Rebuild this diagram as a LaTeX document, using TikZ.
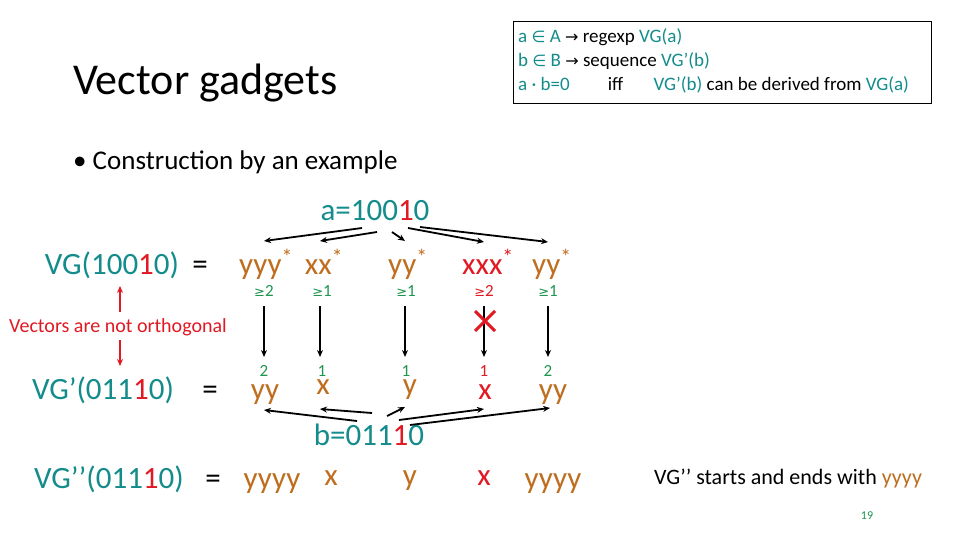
\documentclass[tikz,border=0pt]{standalone}
\usepackage{fontspec}
\setmainfont{Carlito}
\newfontfamily\djv{DejaVu Sans}
\usetikzlibrary{arrows.meta}
\definecolor{tl}{RGB}{20,140,140}
\definecolor{br}{RGB}{190,110,30}
\definecolor{gn}{RGB}{30,150,80}
\definecolor{rd}{RGB}{225,25,35}
\newcommand\geqsym{{\djv\fontsize{13}{15}\selectfont≥}}
\newcommand\sym[1]{{\djv\fontsize{16}{18}\selectfont#1}}
\begin{document}
\begin{tikzpicture}[x=1pt,y=-1pt,
  t/.style={inner sep=0pt,anchor=base},
  big/.style={t,font=\fontsize{31}{33}\selectfont},
  sm/.style={t,font=\fontsize{17}{19}\selectfont,text=gn},
  bx/.style={t,anchor=base west,font=\fontsize{19}{21}\selectfont},
  ar/.style={-{Stealth[length=7pt,width=6pt]},line width=1.8pt},
  rar/.style={-{Stealth[length=7pt,width=6pt]},line width=2.2pt,rd}]
\useasboundingbox[fill=white] (0,0) rectangle (960,540);
\node[t,anchor=base west,font=\fontsize{44}{46}\selectfont] (title) at (73,95) {Vector gadgets};
\node[draw,line width=1pt,minimum width=418,minimum height=82,anchor=north west] (box) at (513,21) {};
\node[bx] (l1) at (518,43) {\textcolor{tl}{a \sym{∈} A} \sym{→} regexp \textcolor{tl}{VG(a)}};
\node[bx] (l2) at (518,67) {\textcolor{tl}{b \sym{∈} B} \sym{→} sequence \textcolor{tl}{VG’(b)}};
\node[bx] (l3) at (518,91) {\textcolor{tl}{a · b=0}\hspace{2em}iff\hspace{1.6em}\textcolor{tl}{VG’(b)} can be derived from \textcolor{tl}{VG(a)}};
\node[t,anchor=base west,font=\fontsize{27}{29}\selectfont] (bul) at (73,170) {• Construction by an example};
\node[big,text=tl] (a) at (375,220) {a=100\textcolor{rd}{1}0};
\node[big,text=tl] (vg) at (112,274) {VG(100\textcolor{rd}{1}0)};
\node[big] (eq1) at (200,274) {=};
\node[big,text=br] (c1) at (266,274) {yyy\textsuperscript{*}};
\node[big,text=br] (c2) at (324,274) {xx\textsuperscript{*}};
\node[big,text=br] (c3) at (408,274) {yy\textsuperscript{*}};
\node[big,text=rd] (c4) at (488,274) {xxx\textsuperscript{*}};
\node[big,text=br] (c5) at (552,274) {yy\textsuperscript{*}};
\foreach \n/\x/\s/\c in {g1/264/2/gn,g2/322/1/gn,g3/406/1/gn,g4/484/2/rd,g5/548/1/gn}
  \node[sm,text=\c] (\n) at (\x,296) {\geqsym\s};
\foreach \n/\x/\s/\c in {h1/264/2/gn,h2/322/1/gn,h3/406/1/gn,h4/484/1/rd,h5/548/2/gn}
  \node[sm,text=\c] (\n) at (\x,376) {\s};
\foreach \i/\x in {1/264,2/320,3/405,4/484,5/548}{
  \coordinate (u\i) at (\x,306); \coordinate (d\i) at (\x,357);
  \draw[ar] (u\i) -- (d\i);}
\draw[rd,line width=3pt] (475,311)--(495,331) (495,311)--(475,331);
\node[big,text=tl] (vgp) at (103,399) {VG’(011\textcolor{rd}{1}0)};
\node[big] (eq2) at (210,399) {=};
\node[big,text=br] (e1) at (265,399) {yy};
\node[big,text=br] (e2) at (323,394) {x};
\node[big,text=br] (e3) at (410,394) {y};
\node[big,text=rd] (e4) at (485,399) {x};
\node[big,text=br] (e5) at (553,399) {yy};
\node[big,text=tl] (b) at (369,445) {b=011\textcolor{rd}{1}0};
\node[big,text=tl] (vgpp) at (109,488) {VG’’(011\textcolor{rd}{1}0)};
\node[big] (eq3) at (213,488) {=};
\node[big,text=br] (f1) at (272,488) {yyyy};
\node[big,text=br] (f2) at (331,485) {x};
\node[big,text=br] (f3) at (410,485) {y};
\node[big,text=rd] (f4) at (484,485) {x};
\node[big,text=br] (f5) at (553,488) {yyyy};
\node[t,anchor=base west,font=\fontsize{22}{24}\selectfont] (note) at (654,484) {VG’’ starts and ends with \textcolor{br}{yyyy}};
\node[t,font=\fontsize{12}{14}\selectfont,text=gn] (pg) at (867,519) {19};
\node[t,anchor=base,font=\fontsize{20}{22}\selectfont,text=rd] (vno) at (118,332) {Vectors are not orthogonal};
\coordinate (ra1) at (120,312); \coordinate (ra2) at (120,286);
\coordinate (rb1) at (120,340); \coordinate (rb2) at (120,366);
\draw[rar] (ra1)--(ra2); \draw[rar] (rb1)--(rb2);
\coordinate (a1) at (362,228); \coordinate (a2) at (377,232); \coordinate (a3) at (392,232);
\coordinate (a4) at (408,228); \coordinate (a5) at (420,227);
\coordinate (t1) at (264,241); \coordinate (t2) at (320,241); \coordinate (t3) at (405,241);
\coordinate (t4) at (484,242); \coordinate (t5) at (548,242);
\draw[ar] (a1)--(t1); \draw[ar] (a2)--(t2); \draw[ar] (a3)--(t3); \draw[ar] (a4)--(t4); \draw[ar] (a5)--(t5);
\coordinate (b1) at (357,421); \coordinate (b2) at (372,413); \coordinate (b3) at (387,416);
\coordinate (b4) at (399,420); \coordinate (b5) at (410,425);
\coordinate (s1) at (264,410); \coordinate (s2) at (320,409); \coordinate (s3) at (405,407);
\coordinate (s4) at (484,409); \coordinate (s5) at (550,408);
\draw[ar] (b1)--(s1); \draw[ar] (b2)--(s2); \draw[ar] (b3)--(s3); \draw[ar] (b4)--(s4); \draw[ar] (b5)--(s5);
\end{tikzpicture}
\end{document}
